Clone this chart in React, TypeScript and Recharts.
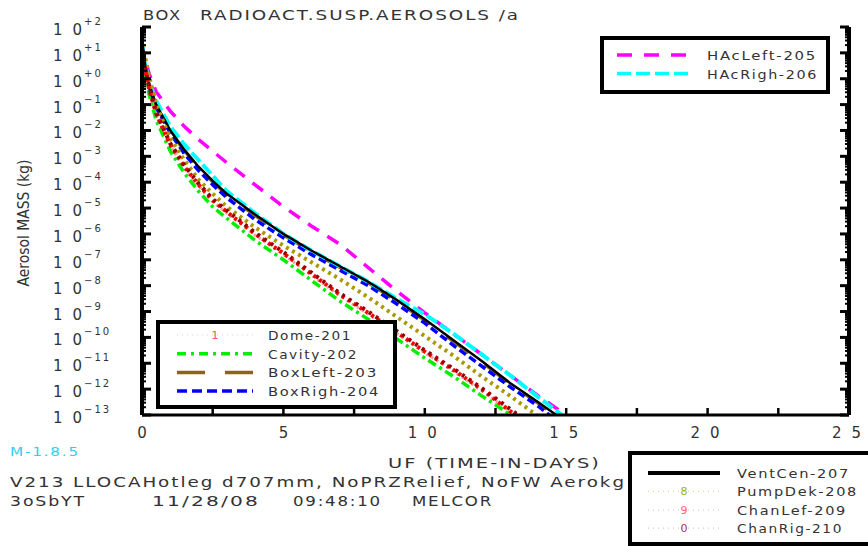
import React from 'react';
import { LineChart, Line, XAxis, YAxis } from 'recharts';

// time grid (days); the first 0 is the empty start of every run
const DAYS = [0, 0, 0.1, 0.25, 0.5, 1, 1.5, 2, 2.5, 3, 4, 5, 6, 7, 8, 9, 10, 11, 12, 13, 14];

// log10 of aerosol mass (kg) on the DAYS grid
const DOME_201 = [-13, 1.1, 0.35, -0.45, -1.4, -2.6, -3.45, -4.15, -4.75, -5.2, -6.05, -6.8, -7.6, -8.4, -9.1, -9.85, -10.6, -11.3, -12.05];
const CAVITY_202 = [-13, 1.0, 0.2, -0.6, -1.6, -2.8, -3.65, -4.35, -4.95, -5.4, -6.25, -7.0, -7.8, -8.6, -9.3, -10.05, -10.8, -11.5, -12.25];
const BOXLEFT_203 = [-13, 1.45, 0.55, -0.25, -1.05, -2.05, -2.8, -3.45, -4.0, -4.5, -5.3, -6.05, -6.7, -7.3, -7.9, -8.6, -9.35, -10.15, -10.95, -11.8, -12.55];
const BOXRIGH_204 = [-13, 1.3, 0.5, -0.3, -1.1, -2.1, -2.9, -3.55, -4.1, -4.6, -5.45, -6.15, -6.8, -7.4, -8.0, -8.7, -9.45, -10.3, -11.1, -11.9, -12.65];
const HACLEFT_205 = [-13, 1.3, 0.8, 0.2, -0.5, -1.25, -1.85, -2.35, -2.8, -3.25, -4.1, -4.95, -5.7, -6.4, -7.3, -8.2, -9.05, -9.85, -10.65, -11.45, -12.25];
const HACRIGH_206 = [-13, 1.4, 0.6, -0.1, -0.85, -1.85, -2.55, -3.15, -3.75, -4.35, -5.2, -6.0, -6.65, -7.25, -7.85, -8.5, -9.1, -9.85, -10.65, -11.45, -12.3];
const VENTCEN_207 = [-13, 1.5, 0.6, -0.2, -1.0, -2.0, -2.75, -3.4, -3.95, -4.45, -5.25, -6.0, -6.65, -7.25, -7.85, -8.55, -9.3, -10.1, -10.9, -11.75, -12.5];
const PUMPDEK_208 = [-13, 1.6, 0.9, 0.1, -1.0, -2.3, -3.15, -3.9, -4.45, -4.95, -5.75, -6.45, -7.1, -7.75, -8.45, -9.2, -9.95, -10.7, -11.5, -12.25];
const CHANLEF_209 = [-13, 1.2, 0.4, -0.4, -1.35, -2.55, -3.4, -4.1, -4.7, -5.15, -6.0, -6.75, -7.55, -8.35, -9.05, -9.8, -10.55, -11.25, -12.0];
const CHANRIG_210 = [-13, 1.3, 0.45, -0.3, -1.3, -2.5, -3.35, -4.05, -4.65, -5.1, -5.95, -6.7, -7.5, -8.3, -9.0, -9.75, -10.5, -11.2, -11.95];

// day at which each curve drops to the 1e-13 floor
const END_DAYS = [13.2, 13.05, 14.6, 14.4, 15.0, 14.85, 14.65, 13.95, 13.2, 13.3];
const FLOOR = -13;

const NAMES = ['Dome-201', 'Cavity-202', 'BoxLeft-203', 'BoxRigh-204', 'HAcLeft-205', 'HAcRigh-206', 'VentCen-207', 'PumpDek-208', 'ChanLef-209', 'ChanRig-210'];
const VALUES = [DOME_201, CAVITY_202, BOXLEFT_203, BOXRIGH_204, HACLEFT_205, HACRIGH_206, VENTCEN_207, PUMPDEK_208, CHANLEF_209, CHANRIG_210];

const X_TICKS = [0, 2.5, 5, 7.5, 10, 12.5, 15, 17.5, 20, 22.5, 25];
const X_LABELS = ['0', '5', '10', '15', '20', '25'];
const Y_EXPONENTS = [2, 1, 0, -1, -2, -3, -4, -5, -6, -7, -8, -9, -10, -11, -12, -13];
const Y_LABELS = ['+2', '+1', '+0', '\u22121', '\u22122', '\u22123', '\u22124', '\u22125', '\u22126', '\u22127', '\u22128', '\u22129', '\u221210', '\u221211', '\u221212', '\u221213'];

// styles per series, same order as NAMES
const STYLES = [
  { color: '#ff9a9a', width: 3, dash: '2 4', legend: { color: '#ffc8c8', width: 1.2, dash: '1 4' }, mark: '1', markColor: '#ff5555' },
  { color: '#00f000', width: 3.5, dash: '9 4 3 4', legend: { color: '#00f000', width: 3.5, dash: '9 5 3 5' } },
  { color: '#8b6510', width: 3, dash: '28 20', legend: { color: '#8b6510', width: 3.5, dash: '28 20' } },
  { color: '#0000ff', width: 3.5, dash: '8 4', legend: { color: '#0000ff', width: 3.5, dash: '10 5' } },
  { color: '#ff00ff', width: 3.5, dash: '13 10', legend: { color: '#ff00ff', width: 3.5, dash: '15 12' } },
  { color: '#00ffff', width: 4, dash: '12 4', legend: { color: '#00ffff', width: 3.5, dash: '14 5' } },
  { color: '#000000', width: 2.5, dash: undefined, legend: { color: '#000000', width: 4, dash: undefined } },
  { color: '#aa9900', width: 4, dash: '3 4', legend: { color: '#d8d890', width: 1.2, dash: '1 4' }, mark: '8', markColor: '#aaaa22' },
  { color: '#ff0000', width: 4, dash: '3 4', legend: { color: '#ffc0c0', width: 1.2, dash: '1 4' }, mark: '9', markColor: '#ff6666' },
  { color: '#990000', width: 4, dash: '3 5', legend: { color: '#e0c0c0', width: 1.2, dash: '1 4' }, mark: '0', markColor: '#aa3333' },
];

const buildSeries = (vals: number[], end: number) => [
  ...vals.map((v, i) => ({ t: DAYS[i], v })),
  { t: end, v: FLOOR },
];

const SERIES = NAMES.map((name, i) => ({ name, data: buildSeries(VALUES[i], END_DAYS[i]), ...STYLES[i] }));

// decade ticks plus log minor ticks
const Y_TICKS: number[] = [];
Y_EXPONENTS.forEach((e) => {
  Y_TICKS.push(e);
  if (e < 2) for (let k = 2; k <= 9; k++) Y_TICKS.push(e + Math.log10(k));
});

const TXT = '#333';
const FONT = '"DejaVu Sans", Verdana, sans-serif';

const isMajor = (v: number) => Math.abs(v - Math.round(v)) < 1e-6;

// wide, lightly spaced lettering like the plotter font of the original
const Wide = ({ x, y, w, size = 14, fill = TXT, children }: any) => (
  <text x={x} y={y} fontSize={size} fill={fill} fontFamily={FONT} letterSpacing={1.5} textLength={w} lengthAdjust="spacingAndGlyphs">
    {children}
  </text>
);

const BottomTick = (props: any) => {
  const { x, y, payload } = props;
  const v = payload.value;
  const idx = Math.round(v / 5);
  const hasLabel = Math.abs(v - idx * 5) < 1e-6;
  const label = hasLabel ? X_LABELS[idx] : null;
  return (
    <g>
      <line x1={x} x2={x} y1={y} y2={y - 7} stroke="#000" strokeWidth={2.5} />
      {label && (label.length === 1 ? (
        <text x={x} y={y + 23} fontSize={15} fill={TXT} textAnchor="middle" fontFamily={FONT}>{label}</text>
      ) : (
        <text x={x - 17} y={y + 23} fontSize={15} fill={TXT} fontFamily={FONT} textLength={29} lengthAdjust="spacing">{label}</text>
      ))}
    </g>
  );
};

const TopTick = (props: any) => {
  const { x, y } = props;
  return <line x1={x} x2={x} y1={y} y2={y + 7} stroke="#000" strokeWidth={2.5} />;
};

const LeftTick = (props: any) => {
  const { x, y, payload } = props;
  const v = payload.value;
  const major = isMajor(v);
  const i = Y_EXPONENTS.indexOf(Math.round(v));
  return (
    <g>
      <line x1={x} x2={x + (major ? 9 : 4)} y1={y} y2={y} stroke="#000" strokeWidth={major ? 3 : 2} />
      {major && (
        <g fontFamily={FONT} fill={TXT}>
          <text x={x - 89} y={y + 8} fontSize={15} textLength={29} lengthAdjust="spacing">10</text>
          <text x={x - 58} y={y - 2} fontSize={10} letterSpacing={2}>{Y_LABELS[i]}</text>
        </g>
      )}
    </g>
  );
};

const RightTick = (props: any) => {
  const { x, y, payload } = props;
  const major = isMajor(payload.value);
  return <line x1={x} x2={x - (major ? 9 : 4)} y1={y} y2={y} stroke="#000" strokeWidth={major ? 3 : 2} />;
};

const LegendRow = ({ s, x1, x2, y, tx, tw }: any) => (
  <g>
    <line x1={x1} x2={x2} y1={y} y2={y} stroke={s.legend.color} strokeWidth={s.legend.width} strokeDasharray={s.legend.dash} />
    {s.mark && (
      <text x={(x1 + x2) / 2} y={y + 4} fontSize={11} fill={s.markColor} textAnchor="middle" fontFamily={FONT}>{s.mark}</text>
    )}
    <Wide x={tx} y={y + 5} w={tw} size={13}>{s.name}</Wide>
  </g>
);

const LEGEND_A = [0, 1, 2, 3];
const LEGEND_A_W = [84, 90, 110, 112];
const LEGEND_B = [4, 5];
const LEGEND_B_W = [110, 111];
const LEGEND_C = [6, 7, 8, 9];
const LEGEND_C_W = [113, 121, 110, 106];

export default function App() {
  return (
    <div style={{ position: 'absolute', left: 0, top: 0, width: 868, height: 546, background: '#fff' }}>
      <LineChart width={868} height={546} margin={{ top: 27, right: 0, bottom: 0, left: 0 }}>
        <XAxis
          type="number"
          dataKey="t"
          domain={[0, 25]}
          ticks={X_TICKS}
          interval={0}
          height={131}
          tickSize={0}
          tickMargin={0}
          axisLine={{ stroke: '#000', strokeWidth: 3 }}
          tickLine={false}
          tick={<BottomTick />}
          allowDataOverflow
        />
        <XAxis
          xAxisId="top"
          orientation="top"
          type="number"
          dataKey="t"
          domain={[0, 25]}
          ticks={X_TICKS}
          interval={0}
          height={0}
          tickSize={0}
          tickMargin={0}
          axisLine={{ stroke: '#000', strokeWidth: 4 }}
          tickLine={false}
          tick={<TopTick />}
          allowDataOverflow
        />
        <YAxis
          type="number"
          domain={[FLOOR, 2]}
          ticks={Y_TICKS}
          interval={0}
          width={142}
          tickSize={0}
          tickMargin={0}
          axisLine={{ stroke: '#000', strokeWidth: 4 }}
          tickLine={false}
          tick={<LeftTick />}
          allowDataOverflow
        />
        <YAxis
          yAxisId="r"
          orientation="right"
          type="number"
          domain={[FLOOR, 2]}
          ticks={Y_TICKS}
          interval={0}
          width={19}
          tickSize={0}
          tickMargin={0}
          axisLine={{ stroke: '#000', strokeWidth: 4 }}
          tickLine={false}
          tick={<RightTick />}
          allowDataOverflow
        />
        {SERIES.map((s) => (
          <Line
            key={s.name}
            data={s.data}
            dataKey="v"
            name={s.name}
            type="linear"
            stroke={s.color}
            strokeWidth={s.width}
            strokeDasharray={s.dash}
            dot={false}
            activeDot={false}
            isAnimationActive={false}
          />
        ))}
      </LineChart>

      <svg width={868} height={546} style={{ position: 'absolute', left: 0, top: 0, pointerEvents: 'none' }}>
        <Wide x={143} y={20} w={39}>BOX</Wide>
        <Wide x={200} y={20} w={320}>RADIOACT.SUSP.AEROSOLS /a</Wide>
        <text transform="translate(29,223) rotate(-90)" fontSize={15} fill={TXT} fontFamily={FONT} textAnchor="middle" textLength={127} lengthAdjust="spacingAndGlyphs">Aerosol MASS (kg)</text>
        <Wide x={10} y={456} w={70} size={13} fill="#33ccee">M-1.8.5</Wide>
        <Wide x={388} y={468} w={213}>UF (TIME-IN-DAYS)</Wide>
        <Wide x={10} y={487} w={616}>V213 LLOCAHotleg d707mm, NoPRZRelief, NoFW Aerokg</Wide>
        <Wide x={10} y={506} w={76}>3oSbYT</Wide>
        <Wide x={152} y={506} w={108}>11/28/08</Wide>
        <Wide x={293} y={506} w={89}>09:48:10</Wide>
        <Wide x={412} y={506} w={81}>MELCOR</Wide>

        <rect x={158} y={322} width={237} height={85} fill="#fff" stroke="#000" strokeWidth={4} />
        {LEGEND_A.map((si, r) => (
          <LegendRow key={si} s={SERIES[si]} x1={177} x2={253} y={335 + r * 18.7} tx={268} tw={LEGEND_A_W[r]} />
        ))}

        <rect x={602} y={38} width={226} height={54} fill="#fff" stroke="#000" strokeWidth={4} />
        {LEGEND_B.map((si, r) => (
          <LegendRow key={si} s={SERIES[si]} x1={617} x2={690} y={55 + r * 18.5} tx={707} tw={LEGEND_B_W[r]} />
        ))}

        <rect x={630} y={453} width={260} height={91} fill="#fff" stroke="#000" strokeWidth={4} />
        {LEGEND_C.map((si, r) => (
          <LegendRow key={si} s={SERIES[si]} x1={648} x2={720} y={473 + r * 18.4} tx={737} tw={LEGEND_C_W[r]} />
        ))}
      </svg>
    </div>
  );
}
